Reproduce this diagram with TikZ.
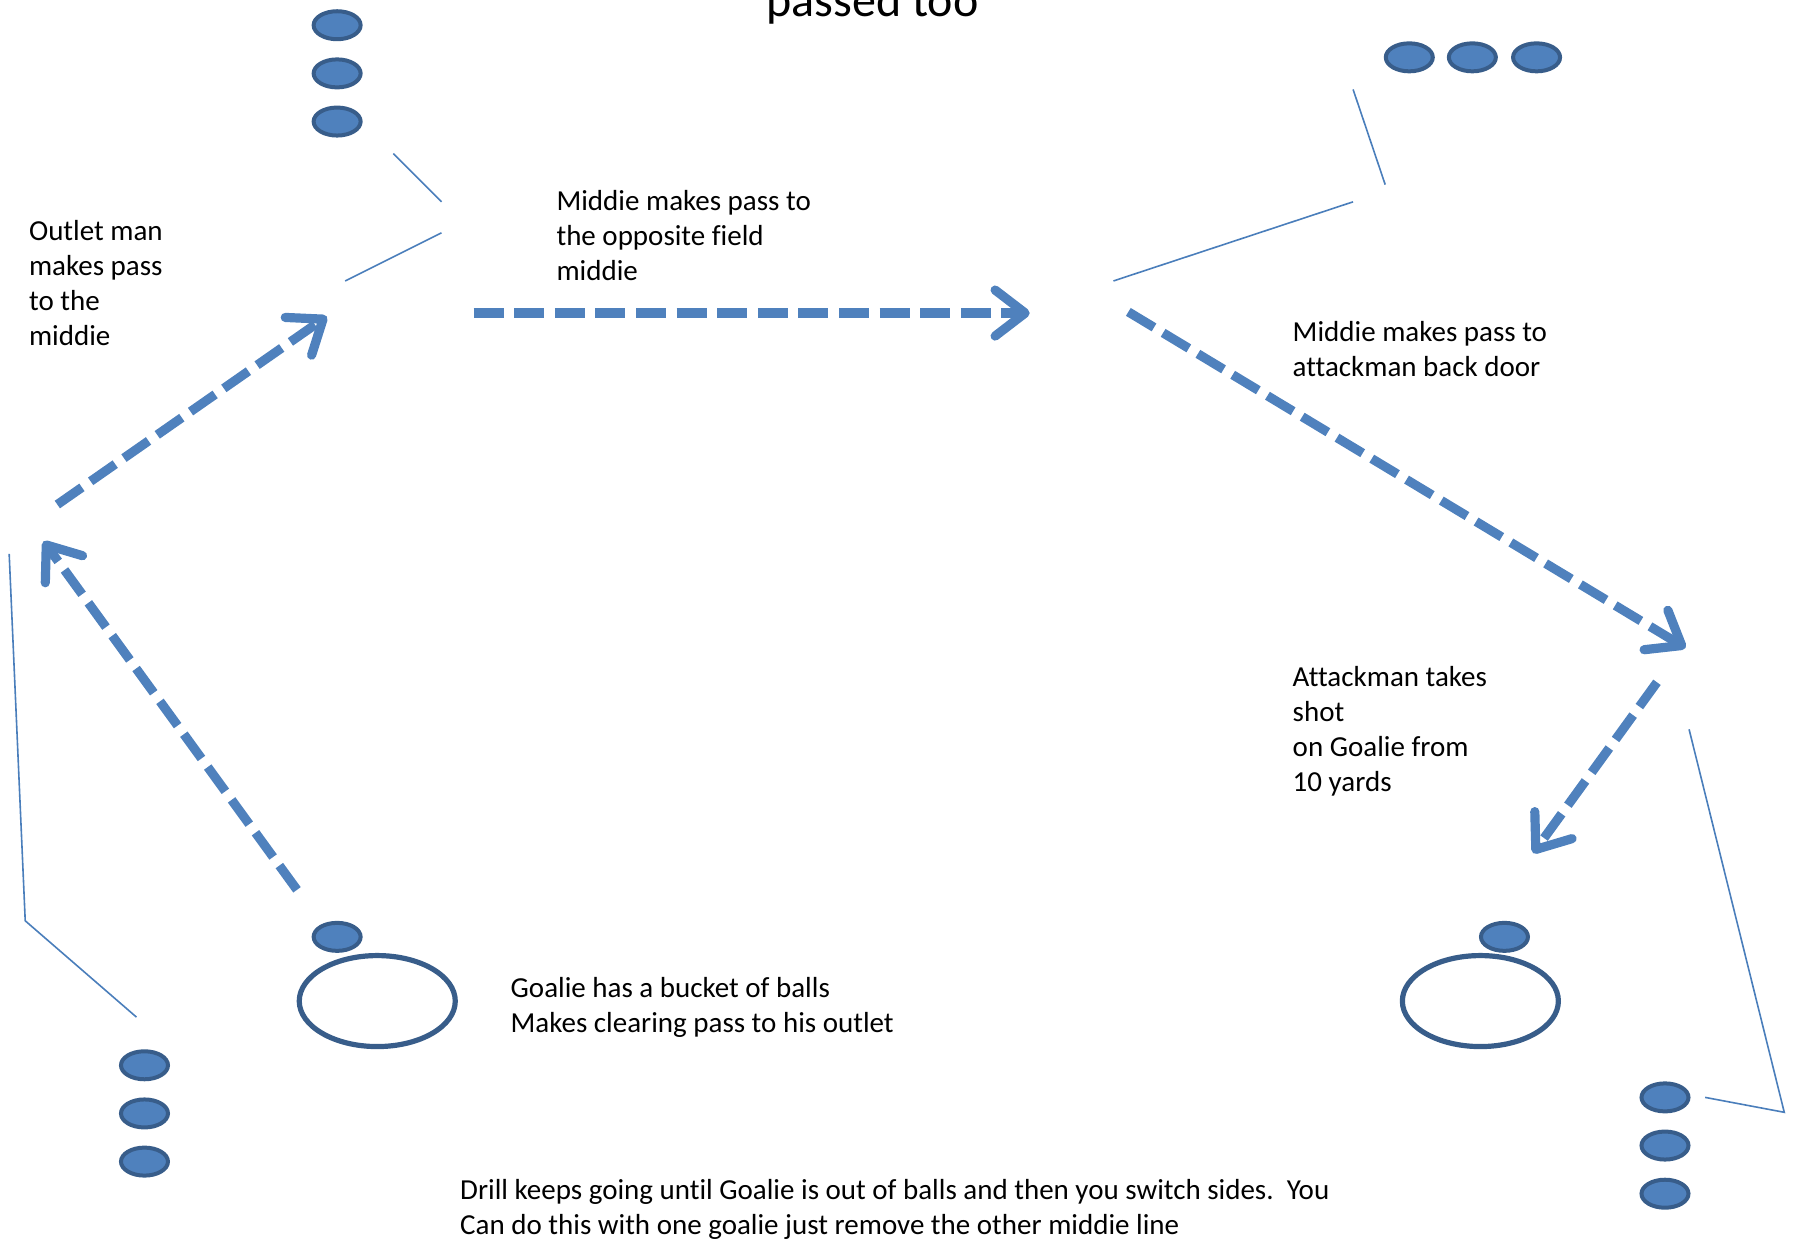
\documentclass[tikz,border=0pt]{standalone}
\usepackage{fontspec}
\setmainfont{Carlito}[Ligatures=NoCommon]
\usetikzlibrary{arrows.meta,shapes.geometric}
\definecolor{ballfill}{HTML}{4F81BD}
\definecolor{ballline}{HTML}{385D8A}
\definecolor{guidecol}{HTML}{4A7EBB}
\begin{document}
\begin{tikzpicture}[x=0.5733pt,y=-0.5733pt,
  ball/.style={ellipse, draw=ballline, fill=ballfill, line width=2pt,
    minimum width=23.5pt, minimum height=14pt, inner sep=0pt},
  goalcrease/.style={ellipse, draw=ballline, line width=2.6pt,
    minimum width=78pt, minimum height=45.5pt, inner sep=0pt},
  guide/.style={draw=guidecol, line width=0.8pt},
  pass/.style={draw=ballfill, line width=4.6pt, dash pattern=on 15pt off 5.3pt,
    -{Straight Barb[round,length=15pt,width=23pt]}},
  note/.style={anchor=base west, align=left, inner sep=0pt,
    font=\fontsize{14.5}{17.5}\selectfont}
]
\clip (0,0) rectangle (1568,1083);
\useasboundingbox (0,0) rectangle (1568,1083);

% title, running off the top edge
\node[anchor=base, inner sep=0pt, font=\fontsize{24}{29}\selectfont] (title) at (761,14) {passed too};

% player lines
\node[ball] (tl1) at (294,22) {};
\node[ball] (tl2) at (294,64) {};
\node[ball] (tl3) at (294,106) {};
\node[ball] (tr1) at (1229,50) {};
\node[ball] (tr2) at (1284,50) {};
\node[ball] (tr3) at (1340,50) {};
\node[ball] (bl1) at (126,929) {};
\node[ball] (bl2) at (126,971) {};
\node[ball] (bl3) at (126,1013) {};
\node[ball] (br1) at (1452,957) {};
\node[ball] (br2) at (1452,999) {};
\node[ball] (br3) at (1452,1041) {};

% goalies with their balls
\node[goalcrease] (gl) at (329,873) {};
\node[ball] (glb) at (294,817) {};
\node[goalcrease] (gr) at (1291,873) {};
\node[ball] (grb) at (1312,817) {};

% thin cut lines
\coordinate (a1) at (343,134); \coordinate (a2) at (385,176);
\coordinate (b1) at (301,245); \coordinate (b2) at (385,203);
\coordinate (c1) at (1180,78); \coordinate (c2) at (1208,161);
\coordinate (d1) at (971,245); \coordinate (d2) at (1180,176);
\coordinate (e1) at (8,483);  \coordinate (e2) at (22,803); \coordinate (e3) at (119,887);
\coordinate (f1) at (1473,636); \coordinate (f2) at (1556,970); \coordinate (f3) at (1487,957);
\draw[guide] (a1) -- (a2);
\draw[guide] (b1) -- (b2);
\draw[guide] (c1) -- (c2);
\draw[guide] (d1) -- (d2);
\draw[guide] (e1) -- (e2) -- (e3);
\draw[guide] (f1) -- (f2) -- (f3);

% passes
\coordinate (p1s) at (259,776); \coordinate (p1e) at (38,472);
\coordinate (p2s) at (50,440);  \coordinate (p2e) at (285,276);
\coordinate (p3s) at (413,273); \coordinate (p3e) at (898,273);
\coordinate (p4s) at (984,272); \coordinate (p4e) at (1470,565);
\coordinate (p5s) at (1445,595); \coordinate (p5e) at (1337,744);
\draw[pass] (p1s) -- (p1e);
\draw[pass] (p2s) -- (p2e);
\draw[pass] (p3s) -- (p3e);
\draw[pass] (p4s) -- (p4e);
\draw[pass] (p5s) -- (p5e);

% notes (anchored at the baseline of their last line)
\node[note] (n1) at (25,301.5) {Outlet man\\makes pass\\to the\\middie};
\node[note] (n2) at (485,245) {Middie makes pass to\\the opposite field\\middie};
\node[note] (n3) at (1127,328.5) {Middie makes pass to\\attackman back door};
\node[note] (n4) at (1127,690.5) {Attackman takes\\shot\\on Goalie from\\10 yards};
\node[note] (n5) at (445,900.5) {Goalie has a bucket of balls\\Makes clearing pass to his outlet};
\node[note] (n6) at (401,1076.5) {Drill keeps going until Goalie is out of balls and then you switch sides.\ \ You\\Can do this with one goalie just remove the other middie line};
\end{tikzpicture}
\end{document}
